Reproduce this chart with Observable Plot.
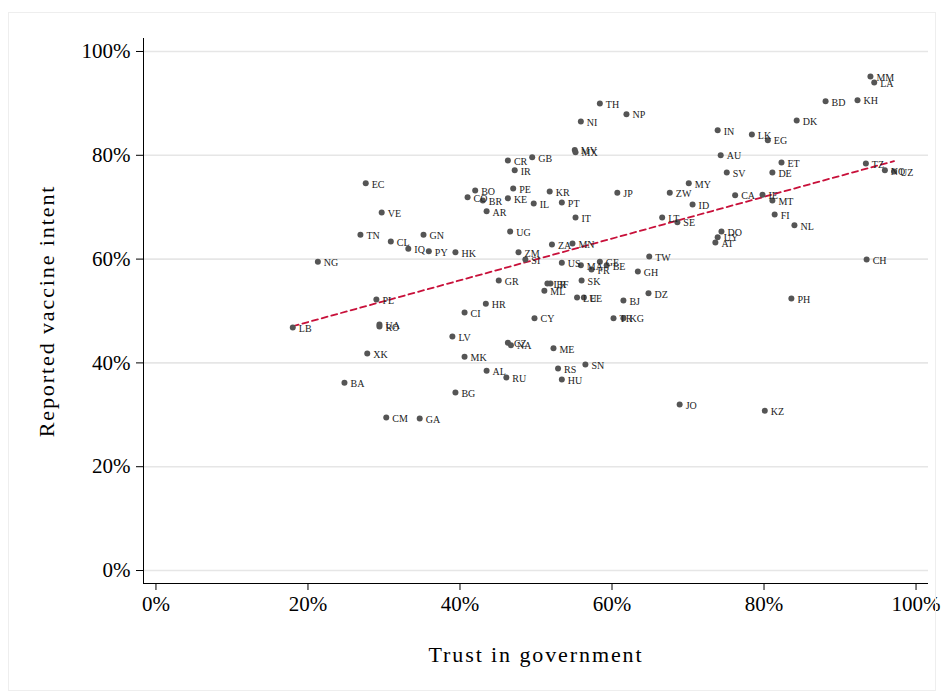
<!DOCTYPE html>
<html>
<head>
<meta charset="utf-8">
<script src="https://cdn.jsdelivr.net/npm/d3@7"></script>
<script src="https://cdn.jsdelivr.net/npm/@observablehq/plot@0.6"></script>
<style>
  html, body { margin: 0; padding: 0; background: #fff; }
  #frame { position: relative; width: 942px; height: 693px; }
  #frame::before { content: ""; position: absolute; left: 8px; top: 12px; right: 6px; bottom: 2px; border: 1px solid #eeeeee; pointer-events: none; }
  svg { display: block; }
  svg [aria-label="y-axis label"] text, svg [aria-label="x-axis label"] text { letter-spacing: 1.9px; font-size: 22px; }
</style>
</head>
<body>
<div id="frame"></div>
<script>
// Country codes with trust in government (%) and reported vaccine intent (%)
const countries = ["MM","LA","BD","KH","TH","NP","NI","DK","IN","LK","EG","MV","MX","GB","CR","IR","AU","ET","TZ","NO","UZ","SV","DE","EC","MY","BO","PE","KR","JP","ZW","CO","BR","KE","IL","PT","CA","IE","MT","ID","AR","VE","FI","IT","LT","SE","NL","UG","DO","UY","AT","TN","GN","CL","IQ","PY","HK","ZA","MN","ZM","SI","NG","TW","CH","US","MA","GE","FR","BE","GH","GR","BF","LR","SK","ML","DZ","LU","EE","BJ","PL","PH","HR","CI","CY","TR","KG","UA","RO","LB","LV","CZ","NA","ME","XK","MK","SN","AL","RS","RU","HU","BA","BG","JO","KZ","CM","GA"];
const trust = [94.0,94.5,88.1,92.3,58.4,61.9,55.9,84.3,73.9,78.4,80.5,55.1,55.2,49.5,46.3,47.2,74.3,82.3,93.4,95.9,97.1,75.1,81.1,27.6,70.1,42.0,47.0,51.8,60.7,67.6,41.0,43.0,46.3,49.7,53.4,76.2,79.8,81.1,70.6,43.5,29.7,81.4,55.2,66.6,68.6,84.0,46.6,74.4,73.9,73.6,26.9,35.2,30.9,33.2,35.9,39.4,52.1,54.8,47.7,48.6,21.3,64.9,93.5,53.4,55.9,58.4,57.3,59.3,63.4,45.1,51.9,51.5,56.0,51.1,64.8,55.4,56.3,61.5,29.0,83.6,43.4,40.6,49.8,60.2,61.5,29.4,29.4,18.0,39.0,46.3,46.7,52.3,27.8,40.6,56.5,43.5,52.9,46.1,53.4,24.8,39.4,68.9,80.1,30.3,34.7];
const intent = [95.2,94.0,90.4,90.6,90.0,87.9,86.5,86.7,84.8,84.0,82.9,81.0,80.6,79.6,79.0,77.1,80.0,78.6,78.4,77.1,76.9,76.7,76.7,74.6,74.6,73.2,73.6,73.0,72.8,72.8,71.9,71.3,71.7,70.7,70.9,72.3,72.4,71.3,70.5,69.2,69.0,68.6,68.0,68.0,67.1,66.5,65.3,65.3,64.2,63.2,64.7,64.7,63.4,62.0,61.5,61.3,62.8,63.0,61.3,59.9,59.5,60.5,59.9,59.3,58.8,59.5,58.0,58.8,57.6,55.9,55.3,55.3,55.9,53.9,53.4,52.6,52.6,52.0,52.2,52.4,51.4,49.7,48.6,48.6,48.6,47.4,47.0,46.8,45.1,43.9,43.4,42.8,41.8,41.2,39.7,38.5,38.9,37.2,36.8,36.2,34.3,32.0,30.8,29.5,29.3];

// Axis ticks and scale extents (percent)
const xTicks = [0, 20, 40, 60, 80, 100];
const yTicks = [0, 20, 40, 60, 80, 100];
const xDomain = [-1.64, 101.64];
const yDomain = [-2.5, 102.5];
const xTitle = "Trust in government";
const yTitle = "Reported vaccine intent";

const rows = countries.map((c, i) => ({code: c, trust: trust[i], intent: intent[i]}));

const serif = "'Palatino Linotype', 'Book Antiqua', Palatino, 'Liberation Serif', 'DejaVu Serif', serif";
const pct = d => d + "%";

const chart = Plot.plot({
  width: 942,
  height: 693,
  marginLeft: 143,
  marginRight: 14,
  marginTop: 38,
  marginBottom: 110,
  style: {fontFamily: serif, background: "transparent", overflow: "visible"},
  x: {domain: xDomain},
  y: {domain: yDomain},
  marks: [
    Plot.ruleY(yTicks, {stroke: "#e6e6e6", strokeWidth: 1.6}),
    Plot.ruleX([xDomain[0]], {stroke: "#000", strokeWidth: 1}),
    Plot.ruleY([yDomain[0]], {stroke: "#000", strokeWidth: 1}),
    Plot.axisY(yTicks, {
      tickSize: 7, tickPadding: 6, tickFormat: pct, fontSize: 21, stroke: "#000", fill: "#000",
      label: yTitle, labelAnchor: "center", labelArrow: "none", labelOffset: 105
    }),
    Plot.axisX(xTicks, {
      tickSize: 7, tickPadding: 6, tickFormat: pct, fontSize: 21, stroke: "#000", fill: "#000",
      label: xTitle, labelAnchor: "center", labelArrow: "none", labelOffset: 78
    }),
    Plot.linearRegressionY(rows, {x: "trust", y: "intent", ci: 0, stroke: "#c8103a", strokeWidth: 1.8, strokeDasharray: "6,4"}),
    Plot.dot(rows, {x: "trust", y: "intent", r: 3, fill: "#555555", stroke: "none"}),
    Plot.text(rows, {x: "trust", y: "intent", text: "code", dx: 6, dy: 1, textAnchor: "start", fontSize: 10, fill: "#222"})
  ]
});

document.getElementById("frame").appendChild(chart);
</script>
</body>
</html>
